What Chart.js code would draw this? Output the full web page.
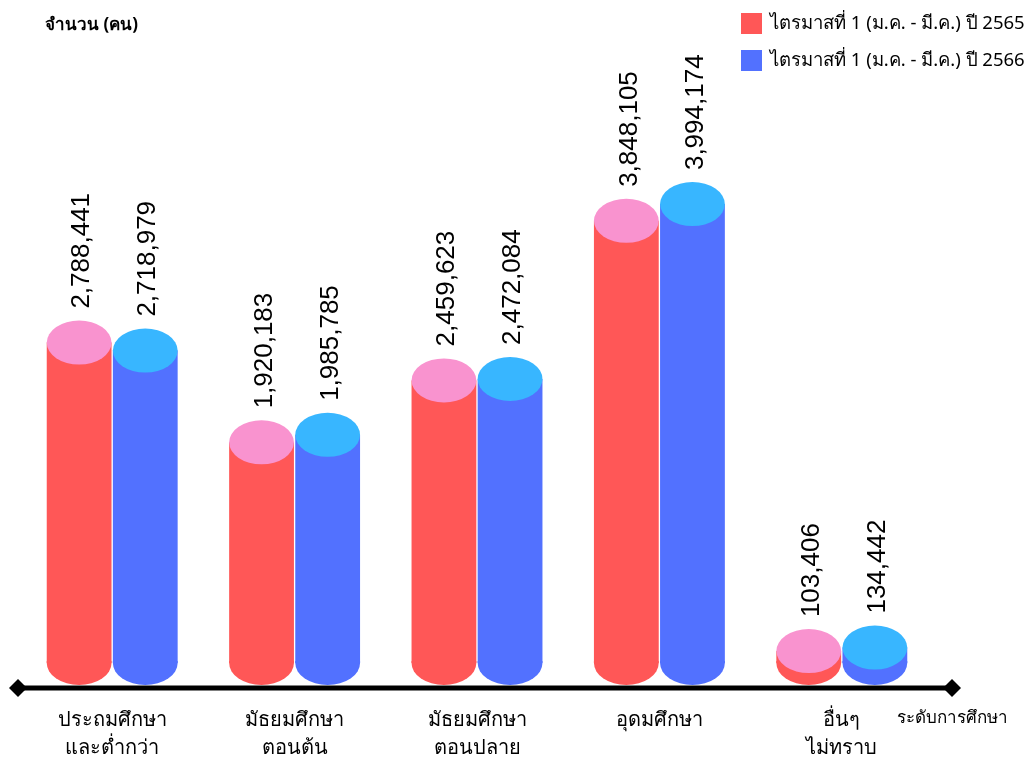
<!DOCTYPE html>
<html>
<head>
<meta charset="utf-8">
<script src="https://cdn.jsdelivr.net/npm/chart.js@4.4.1/dist/chart.umd.min.js"></script>
<style>
  html, body { margin: 0; padding: 0; background: #fff; overflow: hidden; }
  #wrap { width: 1034px; height: 778px; position: relative; }
</style>
</head>
<body>
<div id="wrap"><canvas id="chart"></canvas></div>
<script>
// data
const categories = [
  ['ประถมศึกษา', 'และต่ำกว่า'],
  ['มัธยมศึกษา', 'ตอนต้น'],
  ['มัธยมศึกษา', 'ตอนปลาย'],
  ['อุดมศึกษา'],
  ['อื่นๆ', 'ไม่ทราบ']
];
const seriesNames = ['ไตรมาสที่ 1 (ม.ค. - มี.ค.) ปี 2565', 'ไตรมาสที่ 1 (ม.ค. - มี.ค.) ปี 2566'];
const values2565 = [2788441, 1920183, 2459623, 3848105, 103406];
const values2566 = [2718979, 1985785, 2472084, 3994174, 134442];
const yTitle = 'จำนวน (คน)';
const xTitle = 'ระดับการศึกษา';

const bodyColors = ['#ff5757', '#5271ff'];
const capColors = ['#f993cf', '#38b6ff'];
const thaiFont = "'Noto Sans', 'DejaVu Sans', sans-serif";
const numFont = "'Liberation Sans', Arial, sans-serif";

// cylinders: caps + bottoms + rotated value labels, axis line, legend, titles
const cylinderPlugin = {
  id: 'cylinders',
  afterDatasetsDraw(chart) {
    const ctx = chart.ctx;
    const zeroY = chart.scales.y.getPixelForValue(0);
    const area = chart.chartArea;
    const ry = 22;

    chart.data.datasets.forEach((ds, di) => {
      const meta = chart.getDatasetMeta(di);
      meta.data.forEach((bar, i) => {
        const rx = bar.width / 2;
        ctx.fillStyle = bodyColors[di];
        ctx.beginPath();
        ctx.moveTo(bar.x - rx, zeroY - 2);
        ctx.lineTo(bar.x + rx, zeroY - 2);
        ctx.ellipse(bar.x, zeroY, rx, ry, 0, 0, Math.PI);
        ctx.closePath();
        ctx.fill();

        ctx.fillStyle = capColors[di];
        ctx.beginPath();
        ctx.ellipse(bar.x, bar.y, rx, ry, 0, 0, Math.PI * 2);
        ctx.fill();

        ctx.save();
        ctx.translate(bar.x + 3, bar.y - ry - 12);
        ctx.rotate(-Math.PI / 2);
        ctx.fillStyle = '#000';
        ctx.font = '26px ' + numFont;
        ctx.textAlign = 'left';
        ctx.textBaseline = 'middle';
        ctx.fillText(ds.data[i].toLocaleString('en-US'), 0, 0);
        ctx.restore();
      });
    });

    // axis line with diamond ends
    const lineY = zeroY + 25;
    const x0 = area.left - 3, x1 = area.right + 19;
    ctx.save();
    ctx.strokeStyle = '#000';
    ctx.lineWidth = 5;
    ctx.beginPath();
    ctx.moveTo(x0, lineY);
    ctx.lineTo(x1, lineY);
    ctx.stroke();
    ctx.fillStyle = '#000';
    [x0, x1].forEach(x => {
      ctx.beginPath();
      ctx.moveTo(x - 9, lineY);
      ctx.lineTo(x, lineY - 9);
      ctx.lineTo(x + 9, lineY);
      ctx.lineTo(x, lineY + 9);
      ctx.closePath();
      ctx.fill();
    });

    // titles
    ctx.textBaseline = 'middle';
    ctx.textAlign = 'left';
    ctx.font = 'bold 17px ' + thaiFont;
    ctx.fillText(yTitle, 45, 25);
    ctx.font = '17px ' + thaiFont;
    ctx.fillText(xTitle, 897, 718);

    // legend
    ctx.font = '18.5px ' + thaiFont;
    seriesNames.forEach((name, k) => {
      const y = 13 + k * 37;
      ctx.fillStyle = bodyColors[k];
      ctx.fillRect(741, y, 21, 21);
      ctx.fillStyle = '#000';
      ctx.fillText(name, 770, y + 11);
    });
    ctx.restore();
  }
};

new Chart(document.getElementById('chart'), {
  type: 'bar',
  data: {
    labels: categories,
    datasets: [
      { label: seriesNames[0], data: values2565, backgroundColor: bodyColors[0] },
      { label: seriesNames[1], data: values2566, backgroundColor: bodyColors[1] }
    ]
  },
  options: {
    responsive: true,
    maintainAspectRatio: false,
    animation: false,
    layout: { padding: { top: 100, left: 21, right: 101, bottom: 0 } },
    datasets: { bar: { categoryPercentage: 0.725, barPercentage: 0.98 } },
    plugins: { legend: { display: false }, tooltip: { enabled: false } },
    scales: {
      x: {
        grid: { display: false, drawTicks: false },
        border: { display: false },
        ticks: {
          color: '#000',
          font: { size: 20, family: thaiFont, lineHeight: 1.4 },
          padding: 16,
          maxRotation: 0,
          autoSkip: false
        }
      },
      y: { display: false, min: -235000, max: 4900000 }
    }
  },
  plugins: [cylinderPlugin]
});
</script>
</body>
</html>
